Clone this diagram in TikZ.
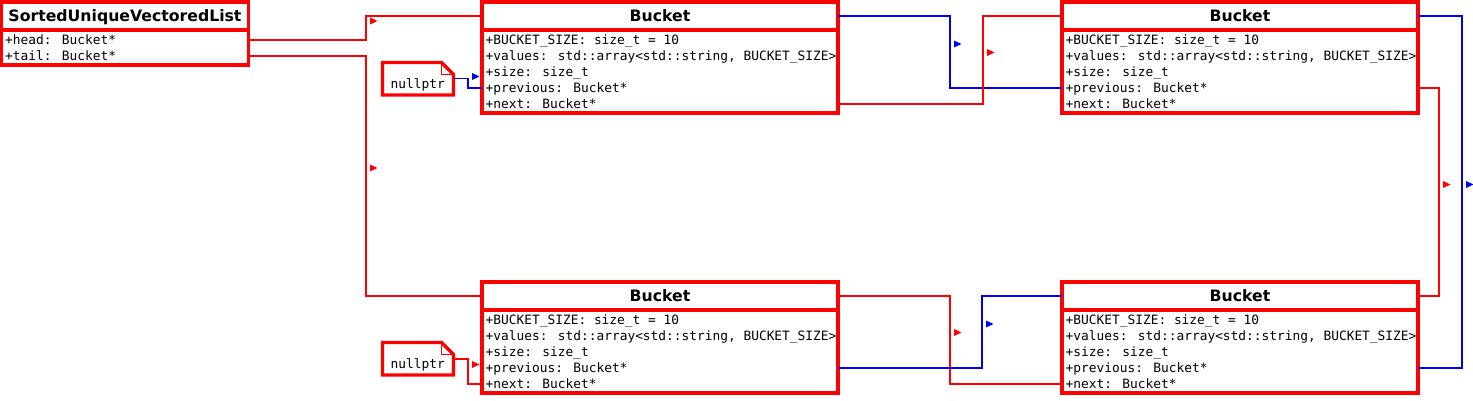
\documentclass[tikz,border=0pt]{standalone}
\usepackage{fontspec}
\newfontfamily\monof{DejaVu Sans Mono}
\newfontfamily\titlef{DejaVu Sans}
\definecolor{umlred}{RGB}{255,0,0}
\definecolor{umlblue}{RGB}{0,0,255}
\tikzset{
  umlbox/.style={draw=umlred, line width=3.3pt, inner sep=0pt, outer sep=0pt, anchor=north west},
  sepline/.style={draw=umlred, line width=3.3pt},
  ttl/.style={font=\titlef\bfseries\fontsize{15.7}{18}\selectfont, inner sep=0pt, anchor=base},
  attr/.style={font=\monof\fontsize{12.85}{16}\selectfont, inner sep=0pt, anchor=base west},
  notebox/.style={inner sep=0pt, outer sep=0pt, minimum width=71pt, minimum height=32.5pt},
  notedraw/.style={draw=umlred, line width=3.3pt, line join=miter},
  redc/.style={draw=umlred, line width=1.5pt},
  bluec/.style={draw=umlblue, line width=1.5pt},
}
% bucket class box: name, left x, top y
\newcommand{\umlbucket}[3]{%
  \node[umlbox, minimum width=356pt, minimum height=111pt] (#1) at (#2,#3) {};
  \draw[sepline] ([yshift=-28pt]#1.north west) -- ([yshift=-28pt]#1.north east);
  \node[ttl] (#1t) at ([yshift=-19.5pt]#1.north) {Bucket};
  \coordinate (#1c0) at ([yshift=-14pt]#1.north west);
  \coordinate (#1c4) at ([yshift=-86pt]#1.north west);
  \coordinate (#1c5) at ([yshift=-102pt]#1.north west);
  \node[attr] (#1a1) at ([xshift=3.5pt,yshift=-42.8pt]#1.north west) {+BUCKET\_SIZE: size\_t = 10};
  \node[attr] (#1a2) at ([xshift=3.5pt,yshift=-58.8pt]#1.north west) {+values: std::array<std::string, BUCKET\_SIZE>};
  \node[attr] (#1a3) at ([xshift=3.5pt,yshift=-74.8pt]#1.north west) {+size: size\_t};
  \node[attr] (#1a4) at ([xshift=3.5pt,yshift=-90.8pt]#1.north west) {+previous: Bucket*};
  \node[attr] (#1a5) at ([xshift=3.5pt,yshift=-106.8pt]#1.north west) {+next: Bucket*};
}
% note shape outline around a node
\newcommand{\notefold}[1]{%
  \draw[notedraw] (#1.north west) -- ([xshift=-12pt]#1.north east) -- ([yshift=-12pt]#1.north east) -- (#1.south east) -- (#1.south west) -- cycle;
  \draw[draw=umlred, line width=1.5pt] ([xshift=-12pt]#1.north east) -- ([xshift=-12pt,yshift=-12pt]#1.north east) -- ([yshift=-12pt]#1.north east);
}
% small arrow marker: colour, left x, centre y
\newcommand{\arrmark}[3]{\fill[#1] (#2,#3) ++(0,-3.5) -- ++(7.5,3.5) -- ++(-7.5,3.5) -- cycle;}
\begin{document}
\begin{tikzpicture}[x=1pt,y=-1pt]
\useasboundingbox (0,0) rectangle (1473,401);

% SortedUniqueVectoredList
\node[umlbox, minimum width=247pt, minimum height=63pt] (suvl) at (1.5,2) {};
\draw[sepline] ([yshift=-28pt]suvl.north west) -- ([yshift=-28pt]suvl.north east);
\node[ttl] (suvlt) at ([yshift=-19.5pt]suvl.north) {SortedUniqueVectoredList};
\coordinate (suvlc1) at ([yshift=-38pt]suvl.north west);
\coordinate (suvlc2) at ([yshift=-54pt]suvl.north west);
\node[attr] (suvla1) at ([xshift=3.5pt,yshift=-42.8pt]suvl.north west) {+head: Bucket*};
\node[attr] (suvla2) at ([xshift=3.5pt,yshift=-58.8pt]suvl.north west) {+tail: Bucket*};

% buckets
\umlbucket{tl}{482}{2}
\umlbucket{tr}{1062}{2}
\umlbucket{bl}{482}{282}
\umlbucket{br}{1062}{282}

% nullptr notes
\node[notebox] (np1) at (418,78.75) {};
\notefold{np1}
\node[attr] (np1t) at (390.5,88.5) {nullptr};
\node[notebox] (np2) at (418,358.75) {};
\notefold{np2}
\node[attr] (np2t) at (390.5,368.5) {nullptr};

% connectors
\draw[redc] (suvl.east |- suvlc1) -| (366,16) -- (tl.west |- tlc0);
\arrmark{umlred}{370}{21}
\draw[redc] (suvl.east |- suvlc2) -| (366,296) -- (bl.west |- blc0);
\arrmark{umlred}{370}{168}
\draw[bluec] (np1.east) -| (468,88) -- (tl.west |- tlc4);
\arrmark{umlblue}{472}{76.5}
\draw[redc] (np2.east) -| (468,384) -- (bl.west |- blc5);
\arrmark{umlred}{472}{364.5}

\draw[bluec] (tl.east |- tlc0) -| (950,88) -- (tr.west |- trc4);
\arrmark{umlblue}{954}{44}
\draw[redc] (tl.east |- tlc5) -| (983,16) -- (tr.west |- trc0);
\arrmark{umlred}{987}{52.5}
\draw[redc] (bl.east |- blc0) -| (950,384) -- (br.west |- brc5);
\arrmark{umlred}{954}{332.5}
\draw[bluec] (bl.east |- blc4) -| (982,296) -- (br.west |- brc0);
\arrmark{umlblue}{986}{324}

\draw[bluec] (tr.east |- trc0) -| (1462,368) -- (br.east |- brc4);
\arrmark{umlblue}{1466}{184.5}
\draw[redc] (tr.east |- trc4) -| (1439,296) -- (br.east |- brc0);
\arrmark{umlred}{1443}{184.5}
\end{tikzpicture}
\end{document}
